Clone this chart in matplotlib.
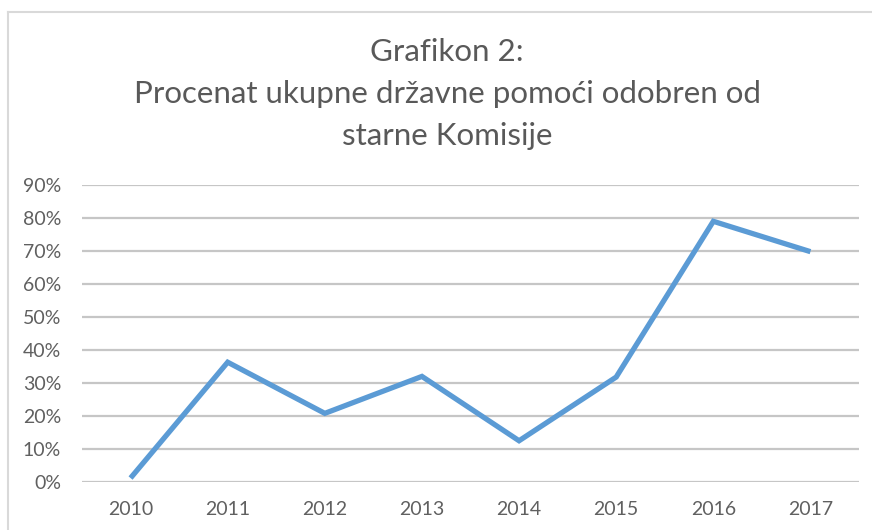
import numpy as np
import matplotlib
matplotlib.use("Agg")
import matplotlib.pyplot as plt
from matplotlib.lines import Line2D
from matplotlib.ticker import PercentFormatter

# data
years = ["2010", "2011", "2012", "2013", "2014", "2015", "2016", "2017"]
share = [1.2, 36.3, 20.8, 32.0, 12.5, 31.8, 79.0, 69.8]

title = "Grafikon 2:\nProcenat ukupne državne pomoći odobren od\nstarne Komisije"

plt.rcParams['font.family'] = ['Lato', 'DejaVu Sans']

fig = plt.figure(figsize=(8.72, 5.30), dpi=100)
ax = fig.add_axes([82 / 872, 1 - 482 / 530, (859 - 82) / 872, (482 - 185) / 530])

x = np.arange(len(years))
ax.plot(x, share, color="#5B9BD5", lw=3.8, solid_capstyle="butt", solid_joinstyle="miter")

ax.set_xlim(-0.5, len(years) - 0.5)
ax.set_ylim(0, 90)
ax.set_yticks(np.arange(0, 91, 10))
ax.yaxis.set_major_formatter(PercentFormatter(decimals=0))
ax.set_xticks(x)
ax.set_xticklabels(years)

ax.grid(axis="y", color="#C6C6C6", lw=1.6)
ax.set_axisbelow(True)
for s in ax.spines.values():
    s.set_visible(False)
ax.tick_params(length=0, labelsize=14, colors="#606060")
ax.tick_params(axis="y", pad=15)
ax.tick_params(axis="x", pad=14)

fig.text(447 / 872, 1 - 94 / 530, title, ha="center", va="center", fontsize=22.5,
         color="#595959", linespacing=1.6)

# chart border (left + top only visible)
fig.add_artist(Line2D([8 / 872, 8 / 872], [0, 1 - 12 / 530], color="#D9D9D9", lw=1.5))
fig.add_artist(Line2D([8 / 872, 1], [1 - 12 / 530, 1 - 12 / 530], color="#D9D9D9", lw=1.5))

fig.savefig("out.png", dpi=100)
